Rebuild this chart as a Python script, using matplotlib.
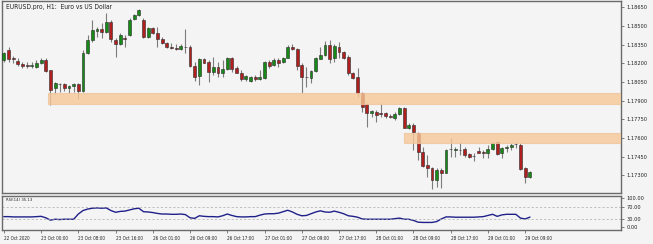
import numpy as np
import matplotlib.pyplot as plt
from matplotlib import font_manager
from matplotlib.patches import Rectangle

# EURUSD H1 candles, 22 Oct 16:00 .. 29 Oct 10:00
opens = [1.18227, 1.18307, 1.18243, 1.18219, 1.18194, 1.18186, 1.18178, 1.18170, 1.18203, 1.18227,
         1.18146, 1.18002, 1.18034, 1.18034, 1.18002, 1.18018, 1.18034, 1.17977, 1.18283, 1.18387,
         1.18460, 1.18476, 1.18452, 1.18532, 1.18387, 1.18355, 1.18404, 1.18428, 1.18556, 1.18588,
         1.18548, 1.18412, 1.18484, 1.18444, 1.18395, 1.18363, 1.18331, 1.18323, 1.18315, 1.18331,
         1.18331, 1.18178, 1.18098, 1.18235, 1.18211, 1.18130, 1.18170, 1.18122, 1.18154, 1.18243,
         1.18162, 1.18122, 1.18074, 1.18058, 1.18090, 1.18074, 1.18082, 1.18211, 1.18186, 1.18227,
         1.18211, 1.18243, 1.18331, 1.18315, 1.18186, 1.18090, 1.18082, 1.18138, 1.18235, 1.18267,
         1.18347, 1.18243, 1.18331, 1.18291, 1.18251, 1.18122, 1.18090, 1.17961, 1.17873, 1.17801,
         1.17809, 1.17801, 1.17801, 1.17776, 1.17760, 1.17792, 1.17841, 1.17680, 1.17704, 1.17640,
         1.17487, 1.17382, 1.17358, 1.17262, 1.17342, 1.17318, 1.17511, 1.17503, 1.17503, 1.17511,
         1.17471, 1.17455, 1.17495, 1.17487, 1.17479, 1.17511, 1.17567, 1.17479, 1.17519, 1.17527,
         1.17551, 1.17543, 1.17358, 1.17286]
highs = [1.18291, 1.18331, 1.18259, 1.18243, 1.18211, 1.18211, 1.18211, 1.18227, 1.18243, 1.18243,
         1.18146, 1.18050, 1.18042, 1.18042, 1.18026, 1.18042, 1.18042, 1.18307, 1.18428, 1.18548,
         1.18492, 1.18524, 1.18605, 1.18548, 1.18404, 1.18444, 1.18428, 1.18564, 1.18596, 1.18637,
         1.18564, 1.18492, 1.18492, 1.18492, 1.18412, 1.18371, 1.18363, 1.18355, 1.18355, 1.18476,
         1.18347, 1.18211, 1.18243, 1.18243, 1.18227, 1.18251, 1.18211, 1.18227, 1.18251, 1.18251,
         1.18178, 1.18146, 1.18106, 1.18098, 1.18106, 1.18146, 1.18219, 1.18227, 1.18243, 1.18243,
         1.18251, 1.18347, 1.18355, 1.18323, 1.18203, 1.18170, 1.18146, 1.18251, 1.18331, 1.18379,
         1.18387, 1.18355, 1.18371, 1.18299, 1.18267, 1.18130, 1.18162, 1.17969, 1.17881, 1.17825,
         1.17825, 1.17881, 1.17809, 1.17792, 1.17809, 1.17849, 1.17849, 1.17720, 1.17720, 1.17648,
         1.17527, 1.17463, 1.17366, 1.17358, 1.17358, 1.17511, 1.17600, 1.17527, 1.17567, 1.17527,
         1.17479, 1.17479, 1.17527, 1.17503, 1.17543, 1.17567, 1.17575, 1.17527, 1.17543, 1.17559,
         1.17567, 1.17559, 1.17366, 1.17334]
lows = [1.18211, 1.18211, 1.18203, 1.18178, 1.18162, 1.18162, 1.18162, 1.18162, 1.18194, 1.18130,
        1.17865, 1.17953, 1.17969, 1.17977, 1.17961, 1.17969, 1.17913, 1.17969, 1.18275, 1.18371,
        1.18412, 1.18404, 1.18444, 1.18371, 1.18251, 1.18347, 1.18331, 1.18420, 1.18548, 1.18580,
        1.18404, 1.18404, 1.18436, 1.18331, 1.18355, 1.18323, 1.18315, 1.18307, 1.18307, 1.18283,
        1.18170, 1.18058, 1.18026, 1.18203, 1.18050, 1.18106, 1.18090, 1.18090, 1.18146, 1.18130,
        1.18122, 1.18058, 1.18058, 1.18050, 1.18058, 1.18066, 1.18074, 1.18162, 1.18178, 1.18170,
        1.18203, 1.18243, 1.18307, 1.18146, 1.17961, 1.18010, 1.18042, 1.18130, 1.18235, 1.18259,
        1.18203, 1.18211, 1.18243, 1.18235, 1.18106, 1.18074, 1.17929, 1.17809, 1.17688, 1.17768,
        1.17728, 1.17768, 1.17760, 1.17760, 1.17744, 1.17784, 1.17680, 1.17672, 1.17503, 1.17423,
        1.17366, 1.17286, 1.17189, 1.17206, 1.17198, 1.17318, 1.17447, 1.17447, 1.17463, 1.17447,
        1.17439, 1.17415, 1.17479, 1.17439, 1.17439, 1.17503, 1.17463, 1.17439, 1.17487, 1.17503,
        1.17519, 1.17342, 1.17238, 1.17278]
closes = [1.18283, 1.18235, 1.18235, 1.18194, 1.18178, 1.18178, 1.18186, 1.18203, 1.18227, 1.18138,
          1.17985, 1.18042, 1.18034, 1.18002, 1.18018, 1.18034, 1.17977, 1.18283, 1.18387, 1.18468,
          1.18476, 1.18452, 1.18532, 1.18395, 1.18355, 1.18428, 1.18395, 1.18548, 1.18588, 1.18629,
          1.18412, 1.18484, 1.18444, 1.18395, 1.18363, 1.18331, 1.18323, 1.18315, 1.18339, 1.18331,
          1.18178, 1.18090, 1.18235, 1.18203, 1.18130, 1.18170, 1.18122, 1.18154, 1.18243, 1.18154,
          1.18122, 1.18074, 1.18098, 1.18090, 1.18074, 1.18090, 1.18211, 1.18178, 1.18227, 1.18203,
          1.18243, 1.18331, 1.18315, 1.18178, 1.18090, 1.18090, 1.18138, 1.18243, 1.18267, 1.18347,
          1.18235, 1.18339, 1.18291, 1.18243, 1.18122, 1.18082, 1.17961, 1.17849, 1.17801, 1.17817,
          1.17784, 1.17792, 1.17776, 1.17768, 1.17792, 1.17841, 1.17680, 1.17704, 1.17648, 1.17487,
          1.17374, 1.17358, 1.17262, 1.17342, 1.17318, 1.17503, 1.17507, 1.17511, 1.17500, 1.17463,
          1.17447, 1.17452, 1.17479, 1.17479, 1.17511, 1.17559, 1.17471, 1.17519, 1.17527, 1.17543,
          1.17548, 1.17350, 1.17286, 1.17326]

rsi = [37, 37, 36, 36, 36, 36, 36, 37, 38, 33,
       25, 28, 27, 28, 28, 28, 46, 58, 63, 66,
       67, 66, 67, 58, 52, 55, 56, 60, 64, 66,
       54, 53, 51, 48, 46, 46, 45, 45, 46, 44,
       33, 31, 40, 38, 37, 37, 36, 40, 46, 41,
       37, 36, 36, 37, 37, 42, 46, 47, 47, 49,
       54, 59, 53, 45, 40, 41, 47, 53, 57, 53,
       52, 56, 52, 47, 40, 38, 35, 29, 28, 28,
       28, 28, 28, 28, 30, 32, 28, 28, 24, 18,
       17, 17, 17, 20, 29, 36, 36, 35, 35, 35,
       35, 35, 36, 37, 41, 45, 38, 43, 45, 45,
       45, 32, 29, 35.13]

time_labels = ['22 Oct 2020', '23 Oct 00:00', '23 Oct 08:00', '23 Oct 16:00', '26 Oct 01:00',
               '26 Oct 09:00', '26 Oct 17:00', '27 Oct 01:00', '27 Oct 09:00', '27 Oct 17:00',
               '28 Oct 01:00', '28 Oct 09:00', '28 Oct 17:00', '29 Oct 01:00', '29 Oct 09:00']
price_ticks = [1.17300, 1.17450, 1.17600, 1.17750, 1.17900, 1.18050, 1.18200, 1.18350, 1.18500, 1.18650]
rsi_ticks = [0, 30, 70, 100]

# supply/demand zones: (start bar, low, high)
zone_start = [9.45, 86.0]
zone_low = [1.17869, 1.17557]
zone_high = [1.17965, 1.17642]

bg = '#f4f4f4'
frame = '#6a6a6a'
tc = '#222222'

fig = plt.figure(figsize=(6.53, 2.44), dpi=100, facecolor=bg)
renderer = fig.canvas.get_renderer()

# pick a narrow family if one is installed
narrow_fname = None
for f in font_manager.fontManager.ttflist:
    fn = f.fname.lower()
    if 'liberationsansnarrow-regular' in fn or 'dejavusanscondensed.ttf' in fn:
        narrow_fname = f.fname
        break


def fit_font(sample, width_px):
    # font properties whose rendered sample has the wanted pixel width
    if narrow_fname:
        fp = font_manager.FontProperties(fname=narrow_fname, size=10)
    else:
        fp = font_manager.FontProperties(family='Liberation Sans', size=10)
    t = fig.text(0, 0, sample, fontproperties=fp)
    w = t.get_window_extent(renderer).width
    t.remove()
    fp.set_size(10 * width_px / w)
    return fp


fp_price = fit_font('1.18650', 21)
fp_time = fit_font('23 Oct 00:00', 27)
fp_title = fit_font('EURUSD.pro, H1:  Euro vs US Dollar', 107)
fp_rsi = fit_font('RSI(14) 35.13', 26)

ax = fig.add_axes([0.0038, 0.211, 0.9472, 0.783], facecolor=bg)
ax2 = fig.add_axes([0.0038, 0.0574, 0.9472, 0.1393], facecolor=bg, sharex=ax)

x = np.arange(len(opens))
o = np.array(opens)
c = np.array(closes)
up = c >= o
body_col = np.where(up, '#168a16', '#b01e1e')

ax.vlines(x, lows, highs, color='#7c7c7c', lw=0.8, zorder=2)
ax.bar(x, c - o, bottom=o, width=0.62, color=body_col,
       edgecolor='#2a2a2a', linewidth=0.4, zorder=3)

xmax = 132.6
for s, lo, hi in zip(zone_start, zone_low, zone_high):
    ax.add_patch(Rectangle((s, lo), xmax - s, hi - lo, facecolor='#f7c896',
                           edgecolor='#efc59c', lw=0.8, alpha=0.8, zorder=4))

ax.set_xlim(-0.3, xmax)
ax.set_ylim(1.17161, 1.18697)
ax.yaxis.tick_right()
ax.set_yticks(price_ticks)
ax.set_yticklabels(['%.5f' % p for p in price_ticks], fontproperties=fp_price, color=tc)
ax.tick_params(axis='y', length=2.5, width=0.6, pad=1.5, color=frame)
ax.tick_params(axis='x', bottom=False, labelbottom=False)
for sp in ax.spines.values():
    sp.set_color(frame)
    sp.set_linewidth(1.0)
ax.text(0.006, 0.988, 'EURUSD.pro, H1:  Euro vs US Dollar', transform=ax.transAxes,
        fontproperties=fp_title, color=tc, va='top', ha='left')

# RSI panel
ax2.plot(x, rsi, color='#20208a', lw=1.0)
for lvl in [30, 70]:
    ax2.axhline(lvl, color='#a8a8a8', lw=0.5, ls=(0, (3, 3)))
ax2.set_ylim(-9, 108)
ax2.yaxis.tick_right()
ax2.set_yticks(rsi_ticks)
ax2.set_yticklabels(['%.2f' % v for v in rsi_ticks], fontproperties=fp_price, color=tc)
ax2.tick_params(axis='y', length=2.5, width=0.6, pad=1.5, color=frame)
ax2.set_xticks(np.arange(0, 8 * len(time_labels), 8))
ax2.set_xticklabels(time_labels, fontproperties=fp_time, color=tc, ha='left')
ax2.tick_params(axis='x', length=2.5, width=0.6, pad=2.0, color=frame)
for sp in ax2.spines.values():
    sp.set_color(frame)
    sp.set_linewidth(1.0)
ax2.text(0.006, 0.95, 'RSI(14) 35.13', transform=ax2.transAxes,
         fontproperties=fp_rsi, color=tc, va='top', ha='left')

fig.savefig('out.png', dpi=100, facecolor=bg)
